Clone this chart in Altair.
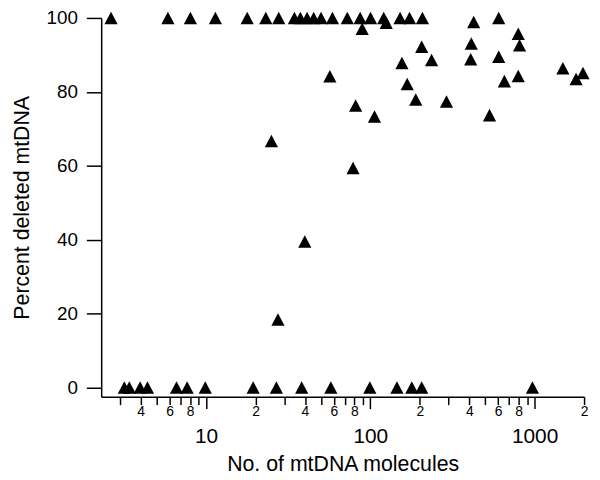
import altair as alt
import pandas as pd

# Points (x = number of mtDNA molecules, y = percent deleted)
top_row_molecules = [2.64, 5.86, 8.03, 11.4, 17.8, 23.1, 27.7, 34.5, 37.5, 41.2, 45.2,
                     50.1, 58.8, 72.4, 86.7, 100.3, 120.6, 151.7, 173.2, 207.5, 604.6]
top_row_percent = [100] * len(top_row_molecules)

upper_molecules = [89.2, 124.9, 425.6, 795.2, 809.8, 205.4, 411.6, 155.7, 236.0, 408.2,
                   604.6, 1486, 1970, 1788, 167.7, 654.4, 795.0, 189.0, 290.8, 531.5,
                   56.7, 81.4, 106.0]
upper_percent = [97.1, 98.7, 98.9, 95.7, 92.6, 92.2, 93.1, 87.8, 88.6, 88.8,
                 89.5, 86.4, 85.1, 83.5, 82.1, 82.9, 84.3, 77.9, 77.4, 73.7,
                 84.2, 76.3, 73.3]

middle_molecules = [25.0, 78.5, 39.9, 27.4]
middle_percent = [66.7, 59.4, 39.5, 18.4]

bottom_row_molecules = [3.18, 3.41, 3.97, 4.40, 6.61, 7.67, 9.89, 19.35, 26.8, 38.2,
                        57.5, 99.3, 145.2, 178.8, 205.4, 970]
bottom_row_percent = [0] * len(bottom_row_molecules)

molecules = top_row_molecules + upper_molecules + middle_molecules + bottom_row_molecules
percent_deleted = top_row_percent + upper_percent + middle_percent + bottom_row_percent

# Axis ticks and labels
minor_ticks = [3, 4, 5, 6, 7, 8, 9, 20, 30, 40, 50, 60, 70, 80, 90,
               200, 300, 400, 500, 600, 700, 800, 900, 2000]
minor_labels = ['', '4', '', '6', '', '8', '', '2', '', '4', '', '6', '', '8', '',
                '2', '', '4', '', '6', '', '8', '', '2']
major_ticks = [10, 100, 1000]
major_labels = ['10', '100', '1000']
y_ticks = [0, 20, 40, 60, 80, 100]

df = pd.DataFrame({'molecules': molecules, 'percent': percent_deleted})


def label_expression(values, labels):
    parts = [f"datum.value == {v} ? '{l}'" for v, l in zip(values, labels) if l]
    return " : ".join(parts) + " : ''"


FONT = 'Liberation Sans'
x_scale = alt.Scale(type='log', domain=[2.3, 2000], nice=False)
y_scale = alt.Scale(domain=[-2.5, 100], nice=False, zero=False)

points = alt.Chart(df).mark_point(
    shape='M0,-0.95L1,0.95L-1,0.95Z', filled=True, size=177, color='black', opacity=1
).encode(
    x=alt.X('molecules:Q', scale=x_scale,
            axis=alt.Axis(values=minor_ticks, labelExpr=label_expression(minor_ticks, minor_labels),
                          tickSize=8, labelFontSize=14, labelPadding=0, title=None, grid=False,
                          orient='bottom', labelOverlap=False, labelFlush=False)),
    y=alt.Y('percent:Q', scale=y_scale,
            axis=alt.Axis(values=y_ticks, tickSize=15, labelPadding=9, labelFontSize=19,
                          title='Percent deleted mtDNA', titleFontSize=21.5, titleFontWeight='normal',
                          titlePadding=13, grid=False, labelOverlap=False, labelFlush=False)),
)

major = alt.Chart(df).mark_point(opacity=0).encode(
    x=alt.X('molecules:Q', scale=x_scale,
            axis=alt.Axis(values=major_ticks, labelExpr=label_expression(major_ticks, major_labels),
                          tickSize=12, labelFontSize=21, labelPadding=17,
                          title='No. of mtDNA molecules', titleFontSize=21.5, titleFontWeight='normal',
                          titlePadding=7, grid=False, orient='bottom', domain=False,
                          labelOverlap=False, labelFlush=False)),
)

chart = alt.layer(points, major).resolve_axis(x='independent').properties(
    width=487, height=382,
    autosize=alt.AutoSizeParams(type='none'),
    padding={'left': 94, 'top': 8, 'right': 8, 'bottom': 82},
).configure_view(stroke=None).configure_axis(
    domainColor='black', tickColor='black', labelColor='black', titleColor='black',
    domainWidth=1.5, tickWidth=1.5, labelFont=FONT, titleFont=FONT,
)

chart.save('out.html', embed_options={'renderer': 'svg', 'actions': False})
